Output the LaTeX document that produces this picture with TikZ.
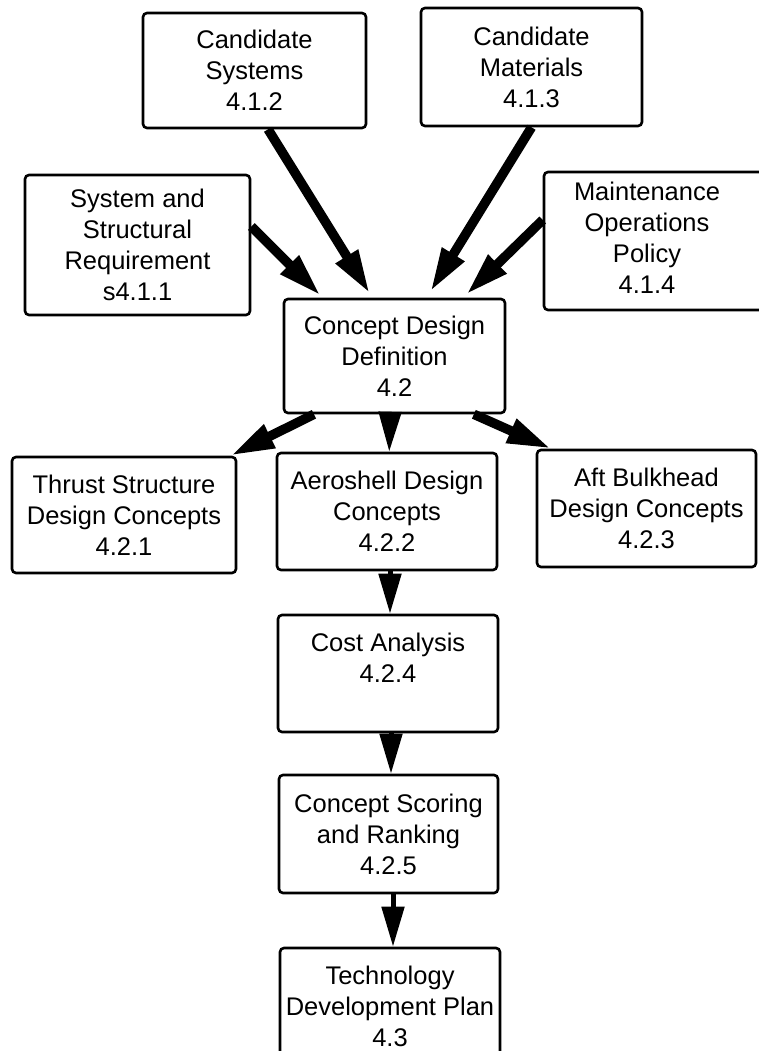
\documentclass[tikz,border=0pt]{standalone}
\usepackage{fontspec}
\setmainfont{Liberation Sans}
\usetikzlibrary{arrows.meta,calc}
\begin{document}
\begin{tikzpicture}[x=1pt,y=-1pt,
  box/.style={draw, line width=2.6pt, rounded corners=4pt, align=center, inner sep=0pt,
    font=\fontsize{25.5}{31}\selectfont},
  lbl/.style={align=center, inner sep=0pt, font=\fontsize{25.5}{31}\selectfont},
  bigarrow/.style={line width=9.5pt, -{Triangle[length=44pt,width=24pt]}},
  smallarrow/.style={line width=5pt, -{Triangle[length=40pt,width=22pt]}}]
\useasboundingbox (0,0) rectangle (758,1051);

\node[box, minimum width=223pt, minimum height=115pt] (sys) at (254.5,70.5) {Candidate\\Systems\\4.1.2};
\node[box, minimum width=221pt, minimum height=118pt] (mat) at (531.5,67) {Candidate\\Materials\\4.1.3};
\node[box, minimum width=225pt, minimum height=140pt] (req) at (137.5,245) {System and\\Structural\\Requirement\\s4.1.1};
\node[box, minimum width=224pt, minimum height=138pt] (mnt) at (656,241) {};
\node[lbl] (mntlabel) at (647,238) {Maintenance\\Operations\\Policy\\4.1.4};
\node[box, minimum width=221pt, minimum height=114pt] (cdd) at (394.5,356) {Concept Design\\Definition\\4.2};
\node[box, minimum width=224pt, minimum height=116pt] (thr) at (124,515) {Thrust Structure\\Design Concepts\\4.2.1};
\node[box, minimum width=220pt, minimum height=117pt] (aer) at (387,511.5) {Aeroshell Design\\Concepts\\4.2.2};
\node[box, minimum width=219pt, minimum height=117pt] (aft) at (646.5,508.5) {Aft Bulkhead\\Design Concepts\\4.2.3};
\node[box, minimum width=220pt, minimum height=117pt] (cost) at (388,673.5) {Cost Analysis\\4.2.4\\\mbox{}};
\node[box, minimum width=219pt, minimum height=118pt] (scr) at (388.5,834) {Concept Scoring\\and Ranking\\4.2.5};
\node[box, minimum width=220pt, minimum height=116pt] (tech) at (390,1006) {Technology\\Development Plan\\4.3};

\coordinate (xa) at (390,0);
\coordinate (xb) at (391,0);
\coordinate (xc) at (393,0);

\draw[bigarrow] ($(sys.south west)!0.56!(sys.south east)$) -- ($(cdd.north west)!0.39!(cdd.north east)+(0,-4)$);
\draw[bigarrow] ($(mat.south west)!0.5!(mat.south east)$) -- ($(cdd.north west)!0.66!(cdd.north east)+(0,-6)$);
\draw[bigarrow] ($(req.north east)!0.37!(req.south east)$) -- ($(cdd.north west)!0.17!(cdd.north east)+(0,-2)$);
\draw[bigarrow] ($(mnt.north west)!0.35!(mnt.south west)$) -- ($(cdd.north west)!0.82!(cdd.north east)+(0,-3)$);
\draw[bigarrow] ($(cdd.south west)!0.14!(cdd.south east)$) -- ($(thr.north west)!0.97!(thr.north east)$);
\draw[smallarrow] ($(cdd.south west)!0.48!(cdd.south east)$) -- ($(aer.north west)!0.51!(aer.north east)$);
\draw[bigarrow] ($(cdd.south west)!0.855!(cdd.south east)$) -- ($(aft.north west)!0.07!(aft.north east)$);
\draw[smallarrow] (aer.south -| xa) -- (cost.north -| xa);
\draw[smallarrow] (cost.south -| xb) -- (scr.north -| xb);
\draw[smallarrow] (scr.south -| xc) -- (tech.north -| xc);
\end{tikzpicture}
\end{document}
